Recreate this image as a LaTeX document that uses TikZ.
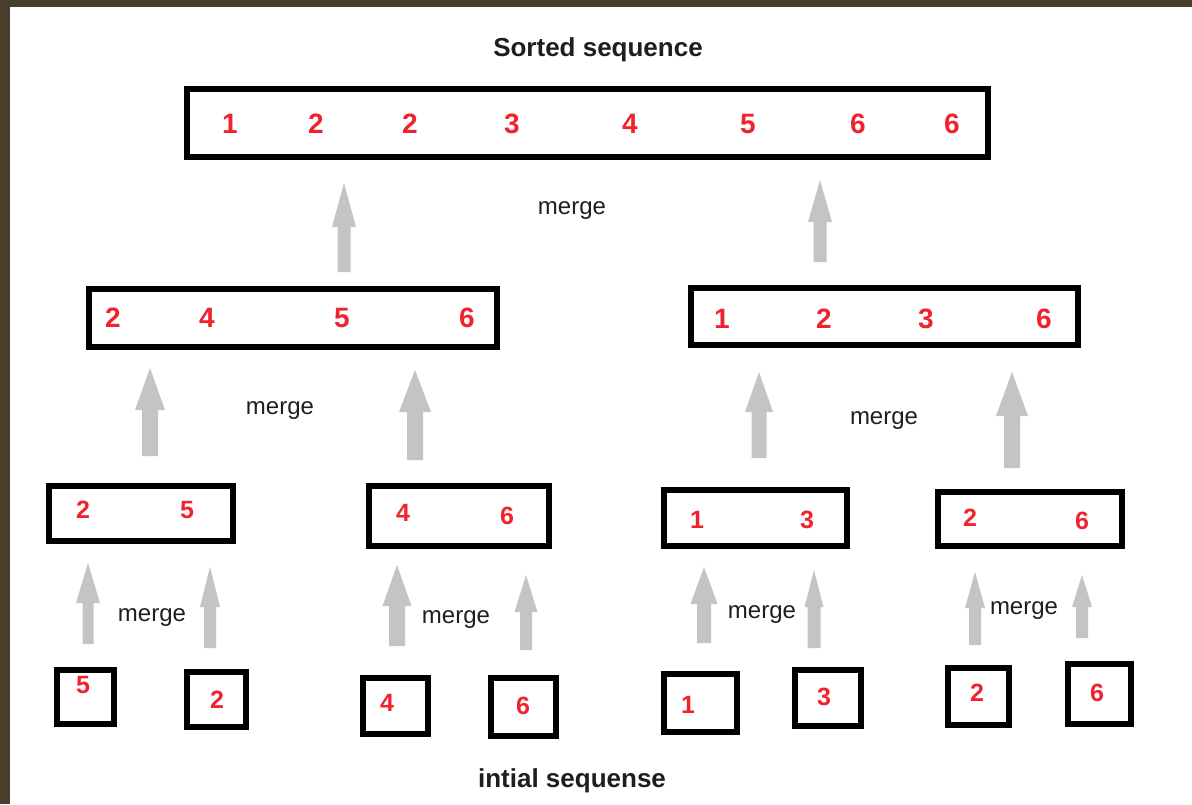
\documentclass[tikz,border=0pt]{standalone}
\usepackage{fontspec}
\setmainfont{Liberation Sans}
\usetikzlibrary{calc}

\definecolor{framebrown}{RGB}{72,62,44}
\definecolor{arrowgray}{RGB}{196,196,196}
\definecolor{digitred}{RGB}{240,34,46}
\definecolor{labelink}{RGB}{30,30,30}

% block arrow: #1 base coordinate, #2 tip coordinate,
% #3 half head width, #4 half shaft width, #5 head length
\newcommand\blockarrow[5]{%
  \fill[arrowgray] ($(#1)+(-#4,0)$) -- ($(#2)+(-#4,#5)$) -- ($(#2)+(-#3,#5)$)
    -- (#2) -- ($(#2)+(#3,#5)$) -- ($(#2)+(#4,#5)$) -- ($(#1)+(#4,0)$) -- cycle;}

\tikzset{
  box/.style 2 args={draw=black, line width=3pt, rectangle, inner sep=0pt,
    minimum width=#1*0.5pt, minimum height=#2*0.5pt},
  digit/.style={text=digitred, inner sep=0pt,
    font=\bfseries\fontsize{14}{14}\selectfont},
  smalldigit/.style={text=digitred, inner sep=0pt,
    font=\bfseries\fontsize{12.5}{12.5}\selectfont},
  mergelabel/.style={text=labelink, inner sep=0pt,
    font=\fontsize{12}{12}\selectfont},
  heading/.style={text=labelink, inner sep=0pt,
    font=\bfseries\fontsize{13}{13}\selectfont},
}

\begin{document}
\begin{tikzpicture}[x=0.5pt, y=-0.5pt]
  % canvas and frame
  \useasboundingbox (0,0) rectangle (1192,804);
  \fill[white] (0,0) rectangle (1192,804);
  \fill[framebrown] (0,0) rectangle (1192,7);
  \fill[framebrown] (0,0) rectangle (10,804);

  % headings
  \node[heading] (title) at (598,50) {Sorted sequence};
  \node[heading] (foot) at (572,781) {intial sequense};

  % level 1: sorted result
  \node[box={801}{68}] (sorted) at (587.5,123) {};
  \node[digit] (s1) at (230,124) {1};
  \node[digit] (s2) at (316,124) {2};
  \node[digit] (s3) at (410,124) {2};
  \node[digit] (s4) at (512,124) {3};
  \node[digit] (s5) at (630,124) {4};
  \node[digit] (s6) at (748,124) {5};
  \node[digit] (s7) at (858,124) {6};
  \node[digit] (s8) at (952,124) {6};

  % level 2: halves
  \node[box={408}{58}] (halfL) at (293,318) {};
  \node[digit] (hl1) at (113,318) {2};
  \node[digit] (hl2) at (207,318) {4};
  \node[digit] (hl3) at (342,318) {5};
  \node[digit] (hl4) at (467,318) {6};

  \node[box={387}{57}] (halfR) at (884.5,316.5) {};
  \node[digit] (hr1) at (722,319) {1};
  \node[digit] (hr2) at (824,319) {2};
  \node[digit] (hr3) at (926,319) {3};
  \node[digit] (hr4) at (1044,319) {6};

  % level 3: pairs
  \node[box={184}{55}] (pairA) at (141,513.5) {};
  \node[smalldigit] (pa1) at (83,510) {2};
  \node[smalldigit] (pa2) at (187,510) {5};

  \node[box={180}{60}] (pairB) at (459,516) {};
  \node[smalldigit] (pb1) at (403,513) {4};
  \node[smalldigit] (pb2) at (507,516) {6};

  \node[box={183}{56}] (pairC) at (755.5,518) {};
  \node[smalldigit] (pc1) at (697,520) {1};
  \node[smalldigit] (pc2) at (807,520) {3};

  \node[box={184}{54}] (pairD) at (1030,519) {};
  \node[smalldigit] (pd1) at (970,518) {2};
  \node[smalldigit] (pd2) at (1082,521) {6};

  % level 4: single elements
  \node[box={57}{54}] (e1) at (85.5,697) {};
  \node[smalldigit] (d1) at (83,685) {5};
  \node[box={59}{55}] (e2) at (216.5,699.5) {};
  \node[smalldigit] (d2) at (217,700) {2};
  \node[box={65}{56}] (e3) at (395.5,706) {};
  \node[smalldigit] (d3) at (387,703) {4};
  \node[box={65}{58}] (e4) at (523.5,707) {};
  \node[smalldigit] (d4) at (523,706) {6};
  \node[box={73}{58}] (e5) at (700.5,703) {};
  \node[smalldigit] (d5) at (688,705) {1};
  \node[box={66}{56}] (e6) at (828,698) {};
  \node[smalldigit] (d6) at (824,697) {3};
  \node[box={61}{57}] (e7) at (978.5,696.5) {};
  \node[smalldigit] (d7) at (977,693) {2};
  \node[box={63}{60}] (e8) at (1099.5,694) {};
  \node[smalldigit] (d8) at (1097,693) {6};

  % merge labels
  \node[mergelabel] (mg1) at (572,211) {merge};
  \node[mergelabel] (mg2) at (280,411) {merge};
  \node[mergelabel] (mg3) at (884,421) {merge};
  \node[mergelabel] (mg4) at (152,618) {merge};
  \node[mergelabel] (mg5) at (456,620) {merge};
  \node[mergelabel] (mg6) at (762,615) {merge};
  \node[mergelabel] (mg7) at (1024,611) {merge};

  % arrow end points
  \coordinate (t1b) at (344,272);  \coordinate (t1t) at (344,183);
  \coordinate (t2b) at (820,262);  \coordinate (t2t) at (820,180);
  \coordinate (m1b) at (150,456);  \coordinate (m1t) at (150,368);
  \coordinate (m2b) at (415,460);  \coordinate (m2t) at (415,370);
  \coordinate (m3b) at (759,458);  \coordinate (m3t) at (759,372);
  \coordinate (m4b) at (1012,468); \coordinate (m4t) at (1012,372);
  \coordinate (b1b) at (88,644);   \coordinate (b1t) at (88,563);
  \coordinate (b2b) at (210,648);  \coordinate (b2t) at (210,567);
  \coordinate (b3b) at (397,646);  \coordinate (b3t) at (397,565);
  \coordinate (b4b) at (526,650);  \coordinate (b4t) at (526,575);
  \coordinate (b5b) at (704,643);  \coordinate (b5t) at (704,567);
  \coordinate (b6b) at (814,648);  \coordinate (b6t) at (814,570);
  \coordinate (b7b) at (975,645);  \coordinate (b7t) at (975,572);
  \coordinate (b8b) at (1082,638); \coordinate (b8t) at (1082,575);

  % merge arrows
  \blockarrow{t1b}{t1t}{12}{6.5}{44}
  \blockarrow{t2b}{t2t}{12}{6.5}{42}
  \blockarrow{m1b}{m1t}{15}{8}{42}
  \blockarrow{m2b}{m2t}{16}{8}{42}
  \blockarrow{m3b}{m3t}{14}{7.5}{40}
  \blockarrow{m4b}{m4t}{16}{8}{44}
  \blockarrow{b1b}{b1t}{12}{5.5}{40}
  \blockarrow{b2b}{b2t}{10}{6}{40}
  \blockarrow{b3b}{b3t}{14.5}{8}{41}
  \blockarrow{b4b}{b4t}{11.5}{6}{37}
  \blockarrow{b5b}{b5t}{13.5}{7}{37}
  \blockarrow{b6b}{b6t}{9.5}{6.5}{37}
  \blockarrow{b7b}{b7t}{10}{6}{36}
  \blockarrow{b8b}{b8t}{10}{6}{32}
\end{tikzpicture}
\end{document}
